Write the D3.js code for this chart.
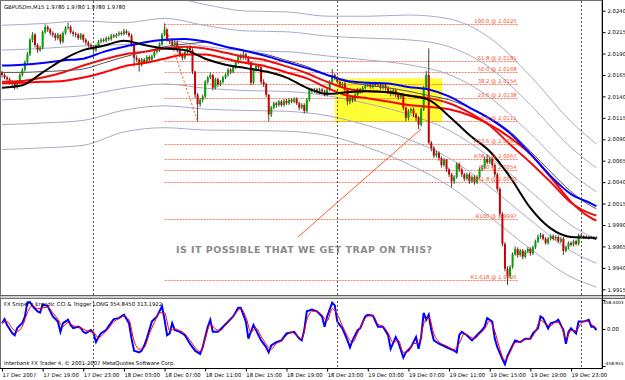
<!DOCTYPE html>
<html>
<head>
<meta charset="utf-8">
<script src="https://cdn.jsdelivr.net/npm/d3@7"></script>
<style>
body { margin: 0; background: #fff; }
svg text { font-family: "DejaVu Sans", sans-serif; }
</style>
</head>
<body>
<svg></svg>
<script>
// ---- GBPUSDm M15 candles, bar 0 = 17 Dec 15:00
const opens = [
2.0168,2.0165,2.0162,2.0160,2.0157,2.0155,2.0151,2.0157,2.0165,2.0171,
2.0180,2.0189,2.0206,2.0212,2.0200,2.0194,2.0197,2.0215,2.0221,2.0218,
2.0214,2.0212,2.0208,2.0212,2.0204,2.0214,2.0220,2.0221,2.0215,2.0213,
2.0212,2.0208,2.0212,2.0206,2.0203,2.0200,2.0198,2.0194,2.0199,2.0204,
2.0206,2.0205,2.0208,2.0207,2.0211,2.0210,2.0212,2.0214,2.0213,2.0216,
2.0214,2.0211,2.0200,2.0185,2.0183,2.0177,2.0183,2.0180,2.0186,2.0183,
2.0187,2.0192,2.0194,2.0201,2.0212,2.0218,2.0206,2.0204,2.0200,2.0203,
2.0194,2.0189,2.0185,2.0192,2.0197,2.0194,2.0169,2.0142,2.0131,2.0136,
2.0140,2.0157,2.0162,2.0165,2.0150,2.0160,2.0154,2.0157,2.0162,2.0165,
2.0171,2.0169,2.0174,2.0180,2.0187,2.0185,2.0189,2.0185,2.0180,2.0156,
2.0171,2.0176,2.0174,2.0157,2.0154,2.0142,2.0119,2.0127,2.0132,2.0130,
2.0134,2.0130,2.0135,2.0132,2.0136,2.0134,2.0137,2.0132,2.0127,2.0130,
2.0123,2.0136,2.0148,2.0146,2.0148,2.0145,2.0148,2.0146,2.0142,2.0148,
2.0157,2.0165,2.0162,2.0157,2.0153,2.0155,2.0148,2.0134,2.0139,2.0136,
2.0142,2.0148,2.0146,2.0150,2.0153,2.0154,2.0151,2.0155,2.0153,2.0154,
2.0150,2.0153,2.0150,2.0146,2.0143,2.0147,2.0142,2.0139,2.0142,2.0127,
2.0115,2.0123,2.0125,2.0119,2.0115,2.0107,2.0125,2.0150,2.0165,2.0086,
2.0080,2.0071,2.0074,2.0068,2.0060,2.0066,2.0055,2.0049,2.0041,2.0046,
2.0061,2.0055,2.0049,2.0044,2.0049,2.0041,2.0046,2.0040,2.0046,2.0055,
2.0057,2.0067,2.0063,2.0067,2.0060,2.0049,2.0032,2.0003,1.9968,1.9939,
1.9930,1.9941,1.9956,1.9962,1.9955,1.9960,1.9953,1.9959,1.9962,1.9957,
1.9964,1.9971,1.9976,1.9978,1.9974,1.9969,1.9974,1.9977,1.9974,1.9976,
1.9971,1.9974,1.9960,1.9964,1.9969,1.9967,1.9971,1.9968,1.9978,1.9977,
1.9976,1.9976,1.9975,1.9976,1.9975];
const highs = [
2.0170,2.0167,2.0164,2.0162,2.0159,2.0157,2.0159,2.0167,2.0173,2.0182,
2.0192,2.0208,2.0215,2.0214,2.0202,2.0199,2.0217,2.0224,2.0223,2.0220,
2.0216,2.0214,2.0214,2.0213,2.0216,2.0222,2.0226,2.0223,2.0217,2.0215,
2.0214,2.0214,2.0213,2.0208,2.0205,2.0202,2.0200,2.0201,2.0206,2.0208,
2.0208,2.0210,2.0210,2.0213,2.0213,2.0214,2.0216,2.0216,2.0219,2.0218,
2.0216,2.0213,2.0201,2.0188,2.0185,2.0185,2.0185,2.0188,2.0188,2.0189,
2.0194,2.0196,2.0203,2.0214,2.0225,2.0219,2.0208,2.0206,2.0205,2.0205,
2.0196,2.0191,2.0194,2.0199,2.0200,2.0196,2.0170,2.0144,2.0138,2.0142,
2.0159,2.0164,2.0168,2.0166,2.0162,2.0162,2.0159,2.0164,2.0167,2.0173,
2.0173,2.0176,2.0182,2.0189,2.0190,2.0194,2.0191,2.0187,2.0181,2.0173,
2.0178,2.0178,2.0176,2.0160,2.0156,2.0143,2.0129,2.0134,2.0134,2.0136,
2.0136,2.0137,2.0137,2.0138,2.0138,2.0139,2.0139,2.0134,2.0132,2.0132,
2.0138,2.0150,2.0150,2.0150,2.0150,2.0150,2.0150,2.0148,2.0150,2.0159,
2.0172,2.0167,2.0164,2.0159,2.0157,2.0157,2.0149,2.0141,2.0141,2.0144,
2.0150,2.0150,2.0152,2.0155,2.0157,2.0156,2.0157,2.0157,2.0156,2.0156,
2.0155,2.0155,2.0152,2.0148,2.0149,2.0149,2.0144,2.0144,2.0143,2.0128,
2.0125,2.0127,2.0127,2.0121,2.0117,2.0127,2.0152,2.0170,2.0196,2.0088,
2.0082,2.0077,2.0076,2.0070,2.0068,2.0067,2.0057,2.0051,2.0048,2.0063,
2.0063,2.0057,2.0051,2.0051,2.0051,2.0048,2.0048,2.0048,2.0057,2.0060,
2.0070,2.0072,2.0070,2.0069,2.0062,2.0051,2.0034,2.0005,1.9970,1.9942,
1.9943,1.9958,1.9965,1.9964,1.9962,1.9962,1.9961,1.9964,1.9964,1.9966,
1.9973,1.9979,1.9981,1.9980,1.9976,1.9976,1.9979,1.9979,1.9978,1.9978,
1.9976,1.9976,1.9966,1.9971,1.9971,1.9973,1.9973,1.9980,1.9979,1.9978,
1.9978,1.9977,1.9977,1.9977,1.9977];
const lows = [
2.0162,2.0160,2.0157,2.0154,2.0152,2.0148,2.0149,2.0155,2.0163,2.0169,
2.0178,2.0187,2.0203,2.0197,2.0191,2.0192,2.0195,2.0213,2.0215,2.0211,
2.0209,2.0205,2.0206,2.0201,2.0202,2.0212,2.0218,2.0213,2.0210,2.0209,
2.0206,2.0206,2.0203,2.0200,2.0197,2.0195,2.0191,2.0192,2.0197,2.0202,
2.0203,2.0203,2.0205,2.0205,2.0208,2.0208,2.0210,2.0211,2.0211,2.0212,
2.0209,2.0198,2.0175,2.0180,2.0169,2.0175,2.0178,2.0178,2.0181,2.0181,
2.0185,2.0190,2.0192,2.0199,2.0210,2.0204,2.0201,2.0197,2.0198,2.0191,
2.0186,2.0182,2.0183,2.0190,2.0192,2.0166,2.0138,2.0111,2.0128,2.0133,
2.0138,2.0155,2.0160,2.0147,2.0148,2.0151,2.0152,2.0155,2.0160,2.0163,
2.0166,2.0167,2.0172,2.0178,2.0182,2.0183,2.0182,2.0177,2.0153,2.0154,
2.0169,2.0171,2.0154,2.0151,2.0139,2.0111,2.0116,2.0125,2.0127,2.0128,
2.0128,2.0128,2.0130,2.0130,2.0132,2.0132,2.0130,2.0124,2.0125,2.0120,
2.0121,2.0134,2.0144,2.0144,2.0143,2.0143,2.0144,2.0140,2.0140,2.0146,
2.0155,2.0159,2.0155,2.0150,2.0151,2.0145,2.0130,2.0131,2.0133,2.0134,
2.0140,2.0143,2.0144,2.0148,2.0151,2.0149,2.0149,2.0151,2.0151,2.0148,
2.0148,2.0147,2.0143,2.0140,2.0141,2.0139,2.0136,2.0137,2.0124,2.0111,
2.0112,2.0120,2.0116,2.0111,2.0102,2.0105,2.0123,2.0148,2.0084,2.0076,
2.0068,2.0069,2.0065,2.0057,2.0058,2.0052,2.0046,2.0034,2.0038,2.0044,
2.0052,2.0046,2.0041,2.0042,2.0038,2.0039,2.0037,2.0038,2.0044,2.0053,
2.0055,2.0061,2.0061,2.0057,2.0046,2.0029,2.0000,1.9965,1.9936,1.9920,
1.9928,1.9939,1.9954,1.9952,1.9953,1.9950,1.9951,1.9957,1.9954,1.9955,
1.9962,1.9969,1.9974,1.9972,1.9967,1.9967,1.9972,1.9972,1.9972,1.9969,
1.9969,1.9955,1.9958,1.9962,1.9965,1.9965,1.9966,1.9966,1.9975,1.9974,
1.9974,1.9973,1.9974,1.9973,1.9974];
const closes = [
2.0165,2.0162,2.0160,2.0157,2.0155,2.0151,2.0157,2.0165,2.0171,2.0180,
2.0189,2.0206,2.0212,2.0200,2.0194,2.0197,2.0215,2.0221,2.0218,2.0214,
2.0212,2.0208,2.0212,2.0204,2.0214,2.0220,2.0221,2.0215,2.0213,2.0212,
2.0208,2.0212,2.0206,2.0203,2.0200,2.0198,2.0194,2.0199,2.0204,2.0206,
2.0205,2.0208,2.0207,2.0211,2.0210,2.0212,2.0214,2.0213,2.0216,2.0214,
2.0211,2.0200,2.0185,2.0183,2.0177,2.0183,2.0180,2.0186,2.0183,2.0187,
2.0192,2.0194,2.0201,2.0212,2.0218,2.0206,2.0204,2.0200,2.0203,2.0194,
2.0189,2.0185,2.0192,2.0197,2.0194,2.0169,2.0142,2.0131,2.0136,2.0140,
2.0157,2.0162,2.0165,2.0150,2.0160,2.0154,2.0157,2.0162,2.0165,2.0171,
2.0169,2.0174,2.0180,2.0187,2.0185,2.0189,2.0185,2.0180,2.0156,2.0171,
2.0176,2.0174,2.0157,2.0154,2.0142,2.0119,2.0127,2.0132,2.0130,2.0134,
2.0130,2.0135,2.0132,2.0136,2.0134,2.0137,2.0132,2.0127,2.0130,2.0123,
2.0136,2.0148,2.0146,2.0148,2.0145,2.0148,2.0146,2.0142,2.0148,2.0157,
2.0165,2.0162,2.0157,2.0153,2.0155,2.0148,2.0134,2.0139,2.0136,2.0142,
2.0148,2.0146,2.0150,2.0153,2.0154,2.0151,2.0155,2.0153,2.0154,2.0150,
2.0153,2.0150,2.0146,2.0143,2.0147,2.0142,2.0139,2.0142,2.0127,2.0115,
2.0123,2.0125,2.0119,2.0115,2.0107,2.0125,2.0150,2.0165,2.0086,2.0080,
2.0071,2.0074,2.0068,2.0060,2.0066,2.0055,2.0049,2.0041,2.0046,2.0061,
2.0055,2.0049,2.0044,2.0049,2.0041,2.0046,2.0040,2.0046,2.0055,2.0057,
2.0067,2.0063,2.0067,2.0060,2.0049,2.0032,2.0003,1.9968,1.9939,1.9930,
1.9941,1.9956,1.9962,1.9955,1.9960,1.9953,1.9959,1.9962,1.9957,1.9964,
1.9971,1.9976,1.9978,1.9974,1.9969,1.9974,1.9977,1.9974,1.9976,1.9971,
1.9974,1.9960,1.9964,1.9969,1.9967,1.9971,1.9968,1.9978,1.9977,1.9976,
1.9976,1.9975,1.9976,1.9975,1.9976];

// ---- moving averages, read every 8 bars
const maBars  = [0,8,16,24,32,40,48,56,64,72,80,88,96,104,112,120,128,136,144,152,160,168,176,184,192,200,208,216,224,232,234];
const blueMA  = [2.0176,2.0177,2.0179,2.0182,2.0184,2.0192,2.0198,2.0203,2.0206,2.0207,2.0204,2.0198,2.0193,2.0187,2.0180,2.0173,2.0165,2.0158,2.0156,2.0155,2.0151,2.0148,2.0140,2.0127,2.0114,2.0097,2.0073,2.0047,2.0026,2.0015,2.0012];
const blackMA = [2.0150,2.0153,2.0168,2.0183,2.0194,2.0199,2.0205,2.0200,2.0196,2.0194,2.0184,2.0177,2.0173,2.0169,2.0162,2.0150,2.0143,2.0145,2.0146,2.0145,2.0141,2.0136,2.0117,2.0095,2.0076,2.0046,2.0010,1.9986,1.9976,1.9975,1.9974];
const redMA1  = [2.0157,2.0158,2.0162,2.0168,2.0176,2.0183,2.0189,2.0192,2.0196,2.0198,2.0196,2.0191,2.0186,2.0182,2.0175,2.0167,2.0157,2.0149,2.0146,2.0145,2.0141,2.0138,2.0132,2.0121,2.0106,2.0084,2.0063,2.0040,2.0016,2.0003,2.0001];
const redMA2  = [2.0155,2.0156,2.0157,2.0158,2.0162,2.0168,2.0175,2.0179,2.0184,2.0189,2.0189,2.0184,2.0179,2.0175,2.0168,2.0161,2.0150,2.0141,2.0138,2.0134,2.0130,2.0128,2.0125,2.0118,2.0107,2.0092,2.0073,2.0046,2.0017,1.9998,1.9995];
const grayMA  = [2.0168,2.0168,2.0169,2.0170,2.0172,2.0179,2.0186,2.0192,2.0198,2.0201,2.0203,2.0198,2.0193,2.0189,2.0182,2.0175,2.0165,2.0157,2.0153,2.0150,2.0146,2.0141,2.0136,2.0127,2.0115,2.0099,2.0076,2.0052,2.0029,2.0012,2.0009];

// ---- deviation bands (mid and one deviation, read every 16 bars)
const bandBars = [0,16,32,48,64,80,96,112,128,144,160,176,192,208,224,234];
const bandMid  = [2.0165,2.0167,2.0170,2.0175,2.0180,2.0174,2.0170,2.0169,2.0164,2.0157,2.0148,2.0133,2.0104,2.0063,2.0020,2.0001];
const bandDev  = [0.0029,0.0029,0.0029,0.00255,0.00255,0.00244,0.00232,0.00232,0.00232,0.00255,0.0029,0.00325,0.00348,0.00336,0.00302,0.00278];
const bandSteps = [-3,-2,-1,1,2,3];

// ---- fibonacci objects
const fibLabels = ["100.0","61.8","50.0","38.2","23.6","0.0","R23.6","R38.2","R50","R61.8","R100","R1.618"];
const fibPrices = [2.0225,2.0181,2.0168,2.0154,2.0138,2.0111,2.0084,2.0067,2.0054,2.0040,1.9997,1.9926];
const fibSpan = [64,203];
const fibAnchor = [[64,2.0225],[77,2.0111]];
const trendLine = [[116.5,1.9976],[165,2.0102]];
const boxBars = [131,173.3];
const boxPrices = [2.0161,2.0110];
const daySeparators = [36,132,228];

// ---- CCI & trigger
const cciMain = [[0,71],[1,122],[2,49],[4,-52],[5,-78],[6,11],[8,75],[9,151],[10,329],[11,333],[12,282],[14,218],[15,202],[16,303],[18,282],[19,218],[20,155],[22,91],[23,-36],[24,71],[26,113],[27,49],[28,11],[30,28],[31,11],[32,-36],[33,-52],[35,-14],[36,-52],[37,-163],[38,-100],[39,-52],[41,-14],[42,36],[44,122],[46,134],[48,176],[50,71],[51,-120],[52,-269],[54,-290],[55,-269],[56,-205],[57,-120],[59,91],[61,155],[63,282],[64,113],[65,-78],[66,-56],[67,71],[68,-14],[70,-36],[72,-78],[74,-183],[76,-269],[78,-311],[79,-227],[81,28],[82,113],[83,-36],[85,-36],[87,28],[89,91],[91,155],[93,261],[94,261],[96,91],[97,-120],[99,49],[100,-14],[102,-142],[104,-227],[105,-290],[106,-205],[108,-163],[110,-142],[112,-56],[115,-36],[117,-120],[118,-142],[119,-14],[120,218],[122,240],[124,218],[126,155],[127,28],[128,155],[130,325],[131,291],[132,91],[134,7],[136,-142],[137,-227],[138,-142],[140,-14],[141,7],[143,155],[144,176],[146,164],[148,28],[150,28],[152,-78],[153,-247],[155,-100],[156,-163],[158,-354],[159,-290],[161,-227],[163,-100],[164,-247],[165,-100],[166,198],[167,113],[168,176],[169,-14],[170,-142],[172,-183],[175,-227],[178,-269],[179,-290],[180,-78],[181,-36],[183,-78],[185,-142],[187,-78],[189,-14],[190,28],[191,134],[193,91],[194,-120],[195,-227],[197,-374],[198,-438],[199,-332],[201,-205],[202,-142],[204,-163],[206,-120],[208,-120],[209,-56],[211,7],[212,155],[213,134],[215,7],[216,71],[218,91],[219,113],[221,-14],[222,-183],[223,-36],[224,7],[226,-56],[227,91],[229,91],[231,113],[232,28],[233,28],[234,-14]];
const cciTrigger = [[0,80],[2,90],[4,10],[6,-30],[8,30],[10,200],[12,290],[14,250],[16,260],[18,270],[20,200],[22,120],[24,30],[26,80],[28,40],[30,25],[32,0],[34,-30],[36,-40],[38,-110],[40,-60],[42,10],[44,90],[46,125],[48,160],[50,110],[52,-150],[54,-250],[56,-230],[58,-60],[60,80],[62,200],[64,200],[66,-20],[68,0],[70,-20],[72,-60],[74,-140],[76,-230],[78,-280],[80,-120],[82,60],[84,0],[86,-20],[88,50],[90,110],[92,200],[94,250],[96,150],[98,-40],[100,10],[102,-90],[104,-190],[106,-250],[108,-180],[110,-150],[112,-80],[114,-40],[116,-80],[118,-120],[120,110],[122,220],[124,215],[126,170],[128,100],[130,250],[132,180],[134,40],[136,-90],[138,-170],[140,-50],[142,80],[144,160],[146,165],[148,60],[150,30],[152,-50],[154,-170],[156,-140],[158,-290],[160,-280],[162,-180],[164,-180],[166,60],[168,150],[170,-60],[172,-160],[175,-210],[178,-255],[180,-180],[182,-60],[184,-90],[186,-120],[188,-60],[190,0],[192,100],[194,-30],[196,-250],[198,-390],[200,-290],[202,-170],[204,-160],[206,-130],[208,-120],[210,-30],[212,110],[214,60],[216,40],[218,85],[220,50],[222,-120],[224,-20],[226,-20],[228,70],[230,100],[232,60],[234,10]];

// ---- axes
const priceTicks = [2.0240,2.0215,2.0190,2.0165,2.0140,2.0115,2.0090,2.0065,2.0040,2.0015,1.9990,1.9965,1.9940,1.9915];
const cciTicks = [358.4403,0,-458.955];
const cciTickLabels = ["358.4403","0.00","-458.955"];
const timeBars = [0,16,32,48,64,80,96,112,128,144,160,176,192,208,224];
const timeLabels = ["17 Dec 2007","17 Dec 19:00","17 Dec 23:00","18 Dec 03:00","18 Dec 07:00","18 Dec 11:00","18 Dec 15:00","18 Dec 19:00","18 Dec 23:00","19 Dec 03:00","19 Dec 07:00","19 Dec 11:00","19 Dec 15:00","19 Dec 19:00","19 Dec 23:00"];

const chartTitle = "GBPUSDm,M15  1.9780 1.9780 1.9780 1.9780";
const cciTitle = "FX Sniper's Ergodic CCI & Trigger LONG 354.8450 313.1922";
const footer = "Interbank FX Trader 4, \u00a9 2001-2007 MetaQuotes Software Corp.";
const note = "IS IT POSSIBLE THAT WE GET TRAP ON THIS?";

// ---- layout
let width = 625, height = 380,
    plotRight = 602, mainBottom = 295, subTop = 298, subBottom = 368,
    fs = "5.3px";

let svg = d3.select("svg").attr("width", width).attr("height", height);

let x  = d3.scaleLinear().domain([0, 234]).range([2, 596.4]),
    y  = d3.scaleLinear().domain([1.9915, 2.0240]).range([289.3, 10.7]),
    yc = d3.scaleLinear().domain([-458.955, 358.4403]).range([366, 300]);

let defs = svg.append("defs");
defs.append("clipPath").attr("id", "clipMain").append("rect")
    .attr("x", 1).attr("y", 1).attr("width", plotRight - 1).attr("height", mainBottom - 1);
defs.append("clipPath").attr("id", "clipSub").append("rect")
    .attr("x", 1).attr("y", subTop + 1).attr("width", plotRight - 1).attr("height", subBottom - subTop - 1);

let main = svg.append("g").attr("clip-path", "url(#clipMain)"),
    sub  = svg.append("g").attr("clip-path", "url(#clipSub)");

// yellow box
main.append("rect")
    .attr("x", x(boxBars[0]))
    .attr("y", y(boxPrices[0]))
    .attr("width", x(boxBars[1]) - x(boxBars[0]))
    .attr("height", y(boxPrices[1]) - y(boxPrices[0]))
    .attr("fill", "#ffff33");

// fib levels
main.append("g").selectAll("line")
    .data(fibPrices)
    .enter()
    .append("line")
    .attr("x1", x(fibSpan[0])).attr("x2", x(fibSpan[1]))
    .attr("y1", d => Math.round(y(d)) + 0.5).attr("y2", d => Math.round(y(d)) + 0.5)
    .attr("stroke", "#f26a48")
    .attr("stroke-opacity", 0.85)
    .attr("stroke-dasharray", "2,1");

// bands
let bandData = d3.zip(bandBars, bandMid, bandDev);
bandSteps.forEach(k => {
  main.append("path")
      .datum(bandData)
      .attr("d", d3.line().x(d => x(d[0])).y(d => y(d[1] + k * d[2])).curve(d3.curveMonotoneX))
      .attr("fill", "none")
      .attr("stroke", "#aaaac6")
      .attr("stroke-width", 1);
});

// day separators
svg.append("g").selectAll("line")
    .data(daySeparators)
    .enter()
    .append("line")
    .attr("x1", d => Math.round(x(d)) + 0.5).attr("x2", d => Math.round(x(d)) + 0.5)
    .attr("y1", 1).attr("y2", subBottom)
    .attr("stroke", "#505050")
    .attr("stroke-dasharray", "2,2");

// candles
let candles = main.append("g").selectAll("g")
    .data(d3.range(closes.length))
    .enter()
    .append("g");

candles.append("line")
    .attr("x1", i => x(i)).attr("x2", i => x(i))
    .attr("y1", i => y(highs[i])).attr("y2", i => y(lows[i]))
    .attr("stroke", "#303030")
    .attr("stroke-width", 0.9);

candles.append("rect")
    .attr("x", i => x(i) - 1)
    .attr("width", 2)
    .attr("y", i => y(Math.max(opens[i], closes[i])))
    .attr("height", i => Math.max(1, Math.abs(y(opens[i]) - y(closes[i]))))
    .attr("fill", i => closes[i] >= opens[i] ? "#00a400" : "#cc0000");

// moving averages
let maLine = d3.line().x(d => x(d[0])).y(d => y(d[1])).curve(d3.curveMonotoneX);
[[grayMA, "#555555", 1], [redMA2, "#ff0000", 2], [redMA1, "#e81010", 2], [blueMA, "#0000ff", 2], [blackMA, "#000000", 2]]
  .forEach(([vals, col, w]) => {
    main.append("path")
        .datum(d3.zip(maBars, vals))
        .attr("d", maLine)
        .attr("fill", "none")
        .attr("stroke", col)
        .attr("stroke-width", w);
  });

// fib trend lines
let objLine = d3.line().x(d => x(d[0])).y(d => y(d[1]));
main.append("path").datum(fibAnchor).attr("d", objLine)
    .attr("stroke", "#ff4a20").attr("stroke-dasharray", "2,2").attr("fill", "none");
main.append("path").datum(trendLine).attr("d", objLine)
    .attr("stroke", "#ff5a30").attr("fill", "none");

// fib labels
main.append("g").selectAll("text")
    .data(fibPrices)
    .enter()
    .append("text")
    .attr("x", x(fibSpan[1]) - 1)
    .attr("y", d => Math.round(y(d)) - 1)
    .attr("text-anchor", "end")
    .attr("font-size", fs)
    .attr("fill", "#f0552a")
    .text((d, i) => `${fibLabels[i]} @ ${d.toFixed(4)}`);

// note
main.append("text")
    .attr("x", 176).attr("y", 253)
    .attr("textLength", 256).attr("lengthAdjust", "spacing")
    .attr("font-size", "9.5px").attr("font-weight", "bold")
    .attr("fill", "#8a8a8a")
    .text(note);

// CCI
let cciLine = d3.line().x(d => x(d[0])).y(d => yc(d[1]));
sub.append("path").datum(cciMain).attr("d", cciLine)
    .attr("fill", "none").attr("stroke", "#0000ff").attr("stroke-width", 2);
sub.append("path").datum(cciTrigger).attr("d", cciLine.curve(d3.curveMonotoneX))
    .attr("fill", "none").attr("stroke", "#ff0000").attr("stroke-width", 1);

// frames
svg.append("rect").attr("x", 0.5).attr("y", 0.5).attr("width", plotRight - 0.5).attr("height", mainBottom)
    .attr("fill", "none").attr("stroke", "#707070");
svg.append("rect").attr("x", 0).attr("y", mainBottom + 0.5).attr("width", width).attr("height", subTop - mainBottom)
    .attr("fill", "#d0d0d0").attr("stroke", "#606060");
svg.append("rect").attr("x", 0.5).attr("y", subTop + 0.5).attr("width", plotRight - 0.5).attr("height", subBottom - subTop)
    .attr("fill", "none").attr("stroke", "#707070");

// price axis
let pAxis = svg.append("g").attr("transform", `translate(${plotRight + 0.5},0)`)
    .call(d3.axisRight(y).tickValues(priceTicks).tickFormat(d3.format(".4f")).tickSize(3).tickPadding(2));
let cAxis = svg.append("g").attr("transform", `translate(${plotRight + 0.5},0)`)
    .call(d3.axisRight(yc).tickValues(cciTicks).tickFormat((d, i) => cciTickLabels[i]).tickSize(3).tickPadding(1.5));
let tAxis = svg.append("g").attr("transform", `translate(0,${subBottom + 0.5})`)
    .call(d3.axisBottom(x).tickValues(timeBars).tickFormat((d, i) => timeLabels[i]).tickSize(3));

[pAxis, cAxis, tAxis].forEach(a => {
  a.select(".domain").remove();
  a.attr("font-family", null).attr("font-size", null);
  a.selectAll("text").attr("font-size", fs).attr("fill", "#000");
  a.selectAll("line").attr("stroke", "#000");
});
// the long CCI labels: right-aligned at the window edge, smaller so they fit
cAxis.selectAll("text")
    .filter(d => d !== 0)
    .attr("font-size", "4.3px")
    .attr("text-anchor", "end")
    .attr("x", width - 1.5 - plotRight - 0.5)
    .attr("y", d => d > 0 ? 2 : -2.5);
tAxis.selectAll("text").attr("text-anchor", "start").attr("x", 0).attr("dy", null).attr("y", 8.3);

svg.append("line").attr("x1", plotRight + 0.5).attr("x2", plotRight + 0.5).attr("y1", 0).attr("y2", subBottom + 0.5)
    .attr("stroke", "#000");
svg.append("line").attr("x1", 0).attr("x2", plotRight + 0.5).attr("y1", subBottom + 0.5).attr("y2", subBottom + 0.5)
    .attr("stroke", "#000");

// texts
svg.append("text").attr("x", 4).attr("y", 8.5).attr("font-size", fs).text(chartTitle);
svg.append("text").attr("x", 4).attr("y", 305.5).attr("font-size", fs).text(cciTitle);
svg.append("text").attr("x", 4).attr("y", 365).attr("font-size", fs).text(footer);
</script>
</body>
</html>
